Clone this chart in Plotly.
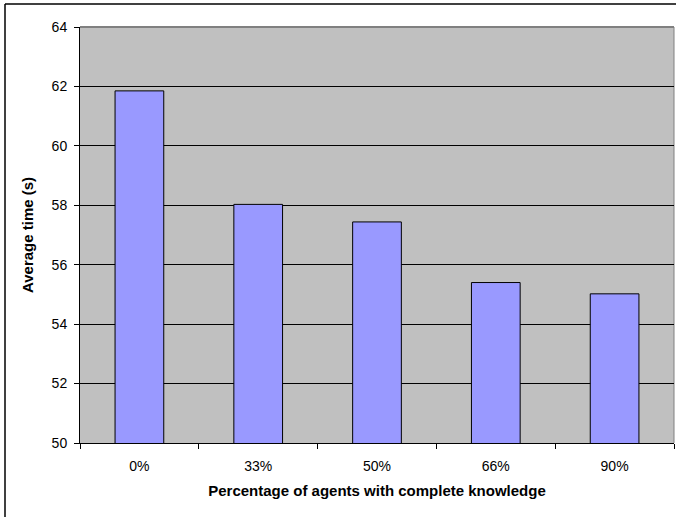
import plotly.graph_objects as go

# Average completion time by share of agents with complete knowledge
categories = ["0%", "33%", "50%", "66%", "90%"]
avg_time = [61.85, 58.03, 57.44, 55.40, 55.02]
y_ticks = [50, 52, 54, 56, 58, 60, 62, 64]

W, H = 676, 517
ML, MR, MT, MB = 80, 2, 27, 74
pw, ph = W - ML - MR, H - MT - MB

fig = go.Figure(
    go.Bar(
        x=categories,
        y=avg_time,
        marker=dict(color="#9999FF", line=dict(color="#000000", width=1)),
    )
)

font_family = "Liberation Sans, Arial, sans-serif"

fig.update_layout(
    width=W,
    height=H,
    margin=dict(l=ML, r=MR, t=MT, b=MB, pad=0),
    paper_bgcolor="#FFFFFF",
    plot_bgcolor="#C0C0C0",
    bargap=0.59,
    showlegend=False,
    font=dict(family=font_family, size=14, color="#000000"),
    xaxis=dict(
        type="category",
        showgrid=False,
        showline=True,
        linecolor="#000000",
        linewidth=1,
        ticks="outside",
        tickson="boundaries",
        ticklen=5,
        tickcolor="#000000",
        tickfont=dict(size=14),
        ticklabelstandoff=10,
        automargin=False,
        title=dict(
            text="<b>Percentage of agents with complete knowledge</b>",
            font=dict(size=15),
            standoff=12,
        ),
    ),
    yaxis=dict(
        range=[50, 64],
        tickvals=y_ticks,
        showgrid=True,
        gridcolor="#000000",
        gridwidth=1,
        showline=True,
        linecolor="#000000",
        linewidth=1,
        ticks="outside",
        ticklen=5,
        tickcolor="#000000",
        tickfont=dict(size=14),
        ticklabelstandoff=4,
        zeroline=False,
        automargin=False,
        title=dict(
            text="<b>Average time (s)</b>",
            font=dict(size=15),
            standoff=14,
        ),
    ),
)

# Grey frame on the top and right edges of the plot area
fig.add_shape(
    type="line", xref="paper", yref="paper",
    x0=0, x1=1, y0=1, y1=1,
    line=dict(color="#808080", width=2), layer="below",
)
fig.add_shape(
    type="line", xref="paper", yref="paper",
    x0=1, x1=1, y0=0, y1=1,
    line=dict(color="#808080", width=1), layer="below",
)

# Chart-area border (left and top edges)
bx = (5 - ML) / pw
by = (H - MB - 4) / ph
fig.add_shape(
    type="line", xref="paper", yref="paper",
    x0=bx, x1=bx, y0=-MB / ph - 0.05, y1=by,
    line=dict(color="#000000", width=1.5), layer="above",
)
fig.add_shape(
    type="line", xref="paper", yref="paper",
    x0=bx, x1=1 + 10 / pw, y0=by, y1=by,
    line=dict(color="#000000", width=1.5), layer="above",
)

fig.write_html("out.html")
